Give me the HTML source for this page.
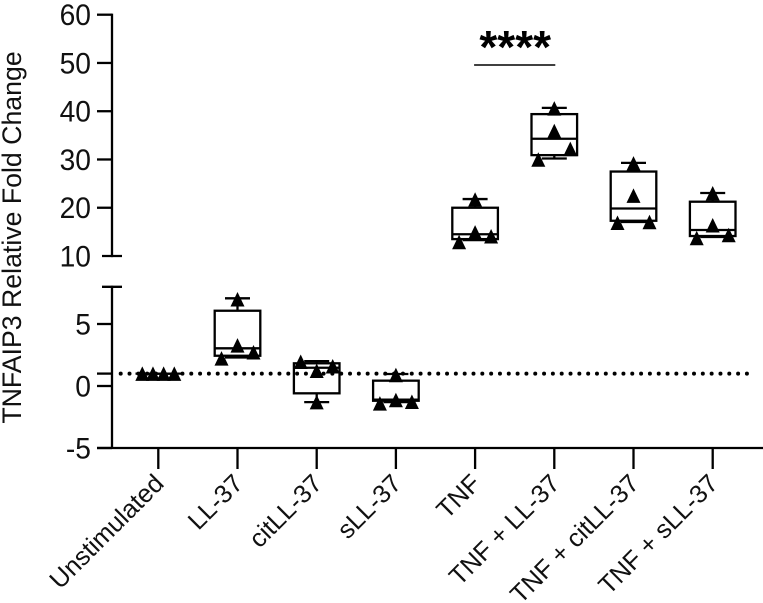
<!DOCTYPE html>
<html lang="en">
<head>
<meta charset="utf-8">
<title>TNFAIP3 Relative Fold Change</title>
<style>
html,body{margin:0;padding:0;background:#fff;}
svg{display:block;font-family:"Liberation Sans",Arial,sans-serif;}
</style>
</head>
<body>
<svg id="chart" xmlns="http://www.w3.org/2000/svg" width="763" height="603" viewBox="0 0 763 603"></svg>
<script>
const categories = ["Unstimulated","LL-37","citLL-37","sLL-37","TNF","TNF + LL-37","TNF + citLL-37","TNF + sLL-37"];
const boxUpper = [1, 6.07, 1.83, 0.43, 20.0, 39.4, 27.5, 21.25];
const boxLower = [1, 2.44, -0.59, -1.19, 13.5, 30.9, 17.3, 14.14];
const medians = [1, 3.04, 1.47, -1.1, 14.5, 34.3, 19.85, 15.39];
const whiskerHigh = [1, 7.07, 2.0, 0.97, 21.8, 40.7, 29.3, 23.05];
const whiskerLow = [1, 2.3, -1.3, -1.3, 13.3, 30.2, 17.05, 13.94];
const pointsA = [1, 7.0, -1.3, 0.89, 21.7, 40.6, 29.2, 23.0];
const pointsB = [1, 3.28, 1.23, -1.13, 14.9, 35.9, 22.5, 16.36];
const pointsC = [1, 2.23, 1.96, -1.4, 12.9, 30.0, 16.9, 13.73];
const pointsD = [1, 2.72, 1.59, -1.27, 14.1, 32.2, 17.05, 14.35];
const upperTicks = [60, 50, 40, 30, 20, 10];
const lowerTicks = [8, 5, 0, -5];
const lowerTickLabels = ["", "5", "0", "-5"];
const referenceValue = 1;
const significanceFrom = 4;
const significanceTo = 5;
const significanceLabel = "****";
const yTitle = "TNFAIP3 Relative Fold Change";

const svg = document.getElementById('chart');
const NS = 'http://www.w3.org/2000/svg';
const axisX = 112;
const stroke = 2.3;

function xScale(i){ return 158.3 + i * 79.2; }
function yUpper(v){ return 256 - (v - 10) * 4.826; }
function yLower(v){ return 386 - v * 12.4; }
function yScale(v, i){ return i >= 4 ? yUpper(v) : yLower(v); }

function line(x1, y1, x2, y2, width, name){
  const el = document.createElementNS(NS, 'line');
  el.setAttribute('x1', x1);
  el.setAttribute('y1', y1);
  el.setAttribute('x2', x2);
  el.setAttribute('y2', y2);
  el.setAttribute('stroke', '#000');
  el.setAttribute('stroke-width', width);
  
  
  svg.appendChild(el);
  return el;
}
function text(x, y, str, size, anchor, name){
  const el = document.createElementNS(NS, 'text');
  el.setAttribute('x', x);
  el.setAttribute('y', y);
  el.setAttribute('font-size', size);
  el.setAttribute('text-anchor', anchor);
  el.setAttribute('fill', '#111');
  
  
  el.textContent = str;
  svg.appendChild(el);
  return el;
}
function tickLabel(y, str, name){
  const el = text(0, 0, str, 30, 'end', name);
  el.setAttribute('transform', 'translate(91 ' + (y + 10.5) + ') scale(0.94 1)');
}

/* y axes */
line(axisX, yUpper(60) - 1.1, axisX, yUpper(10) + 1.1, stroke, 'y-axis-upper');
line(axisX, yLower(8) - 1.1, axisX, yLower(-5), stroke, 'y-axis-lower');
upperTicks.forEach(function(t){
  const edge = t === 10;
  line(edge ? 102 : 97, yUpper(t), edge ? 122 : axisX, yUpper(t), stroke, 'y-tick-' + t);
  tickLabel(yUpper(t), String(t), 'y-tick-label-' + t);
});
lowerTicks.forEach(function(t, i){
  const edge = t === 8;
  line(edge ? 102 : 97, yLower(t), edge ? 122 : axisX, yLower(t), stroke, 'y-tick-' + t);
  if (lowerTickLabels[i]) tickLabel(yLower(t), lowerTickLabels[i], 'y-tick-label-' + t);
});

/* x axis */
line(97, yLower(-5), 763, yLower(-5), stroke, 'x-axis');
categories.forEach(function(c, i){
  line(xScale(i), yLower(-5), xScale(i), yLower(-5) + 21, stroke, 'x-tick-' + i);
  const lx = xScale(i) + 7;
  const ly = 485;
  const lab = text(lx, ly, c, 25.5, 'end', 'x-tick-label-' + i);
  lab.setAttribute('transform', 'rotate(-45 ' + lx + ' ' + ly + ')');
});

/* y title */
const title = text(0, 0, yTitle, 26.7, 'middle', 'y-axis-title');
title.setAttribute('transform', 'translate(21 237.5) rotate(-90)');

/* reference line */
line(97, yLower(referenceValue), axisX, yLower(referenceValue), stroke, 'reference-line-tick');
const ref = line(120.7, yLower(referenceValue), 752, yLower(referenceValue), 4, 'reference-dotted-line');
ref.setAttribute('stroke-dasharray', '0 8.82');
ref.setAttribute('stroke-linecap', 'round');

/* boxes and points */
const halfBox = 22.8;
const halfCap = 12.5;
const triW = 14;
const triH = 14.5;
categories.forEach(function(c, i){
  const x = xScale(i);
  const top = yScale(boxUpper[i], i);
  const bot = yScale(boxLower[i], i);
  line(x, yScale(whiskerHigh[i], i), x, top, stroke, 'whisker-high-' + i);
  line(x, bot, x, yScale(whiskerLow[i], i), stroke, 'whisker-low-' + i);
  line(x - halfCap, yScale(whiskerHigh[i], i), x + halfCap, yScale(whiskerHigh[i], i), stroke, 'whisker-cap-high-' + i);
  line(x - halfCap, yScale(whiskerLow[i], i), x + halfCap, yScale(whiskerLow[i], i), stroke, 'whisker-cap-low-' + i);
  const box = document.createElementNS(NS, 'rect');
  box.setAttribute('x', x - halfBox);
  box.setAttribute('y', top);
  box.setAttribute('width', halfBox * 2);
  box.setAttribute('height', bot - top);
  box.setAttribute('fill', 'none');
  box.setAttribute('stroke', '#000');
  box.setAttribute('stroke-width', stroke);
  
  
  svg.appendChild(box);
  line(x - halfBox, yScale(medians[i], i), x + halfBox, yScale(medians[i], i), stroke, 'median-' + i);

  const vals = [pointsA[i], pointsB[i], pointsC[i], pointsD[i]];
  const tied = vals.every(function(v){ return v === vals[0]; });
  const slots = tied ? [-16, -5.33, 5.33, 16] : [0, 0, -16, 16];
  vals.forEach(function(v, k){
    const px = x + slots[k];
    const py = yScale(v, i);
    const tri = document.createElementNS(NS, 'polygon');
    tri.setAttribute('points', (px - triW/2) + ',' + (py + triH/2) + ' ' + (px + triW/2) + ',' + (py + triH/2) + ' ' + px + ',' + (py - triH/2));
    tri.setAttribute('fill', '#000');
    
    
    svg.appendChild(tri);
  });
});

/* significance */
line(xScale(significanceFrom) - 1, 65, xScale(significanceTo) + 1, 65, 1.6, 'significance-bar');
const stars = text((xScale(significanceFrom) + xScale(significanceTo)) / 2 + 0.5, 63, significanceLabel, 46, 'middle', 'significance-stars');
stars.setAttribute('font-weight', 'bold');
stars.setAttribute('fill', '#000');
</script>
</body>
</html>
